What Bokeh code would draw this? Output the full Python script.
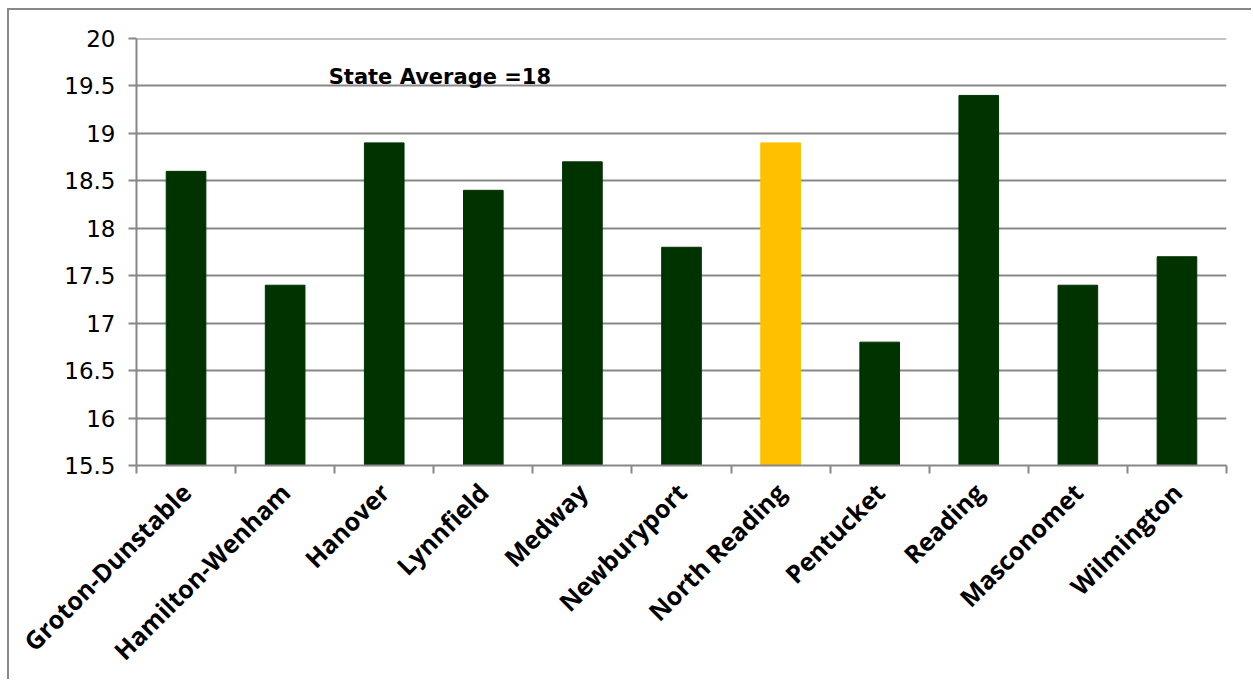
from bokeh.plotting import figure
from bokeh.models import Label, FixedTicker, ColumnDataSource, Span, Range1d, LinearAxis
from bokeh.embed import file_html
from bokeh.resources import INLINE
import math

schools = ["Groton-Dunstable", "Hamilton-Wenham", "Hanover", "Lynnfield", "Medway",
           "Newburyport", "North Reading", "Pentucket", "Reading", "Masconomet", "Wilmington"]
scores = [18.6, 17.4, 18.9, 18.4, 18.7, 17.8, 18.9, 16.8, 19.4, 17.4, 17.7]
highlight = "North Reading"
y_ticks = [15.5, 16, 16.5, 17, 17.5, 18, 18.5, 19, 19.5, 20]
note = "State Average =18"

GREEN = "#003300"
GOLD = "#FFC000"
GRID = "#888888"
colors = [GOLD if s == highlight else GREEN for s in schools]
n = len(schools)
centers = [i + 0.5 for i in range(n)]
bounds = list(range(n + 1))

src = ColumnDataSource(dict(x=centers, top=scores, color=colors))

W, H = 1253 - 9, 681 - 10
p = figure(x_range=Range1d(0, n), y_range=Range1d(15.5, 20), width=W, height=H,
           output_backend="svg", toolbar_location=None,
           min_border_left=127, min_border_right=W - (1226 - 9),
           min_border_top=28, min_border_bottom=H - (465 - 10))
p.styles = {"border-top": "2px solid #888888", "border-left": "2px solid #888888",
            "margin-left": "7px", "margin-top": "8px"}

p.vbar(x="x", top="top", bottom=15.5, width=0.4, color="color", source=src)

p.outline_line_color = None
p.xgrid.grid_line_color = None
p.ygrid.grid_line_color = GRID
p.ygrid.grid_line_width = 2
p.add_layout(Span(location=20, dimension="width", line_color=GRID, line_width=2))

# inner y axis: line and ticks only
p.yaxis.ticker = FixedTicker(ticks=y_ticks)
p.yaxis.axis_line_color = GRID
p.yaxis.axis_line_width = 2
p.yaxis.major_tick_line_color = GRID
p.yaxis.major_tick_line_width = 2
p.yaxis.major_tick_in = 0
p.yaxis.major_tick_out = 8
p.yaxis.minor_tick_line_color = None
p.yaxis.major_label_overrides = {t: "" for t in y_ticks}

# outer y axis: labels only
ylab = LinearAxis(ticker=FixedTicker(ticks=y_ticks), axis_line_color=None,
                  major_tick_line_color=None, minor_tick_line_color=None,
                  major_tick_in=0, major_tick_out=8,
                  major_label_text_font="DejaVu Sans", major_label_text_font_size="23px",
                  major_label_text_color="#000000")
p.add_layout(ylab, "left")

p.xaxis.ticker = FixedTicker(ticks=centers, minor_ticks=bounds)
p.xaxis.major_label_overrides = {c: s for c, s in zip(centers, schools)}
p.xaxis.axis_line_color = GRID
p.xaxis.axis_line_width = 2
p.xaxis.major_tick_line_color = None
p.xaxis.minor_tick_line_color = GRID
p.xaxis.minor_tick_line_width = 2
p.xaxis.minor_tick_in = 0
p.xaxis.minor_tick_out = 8
p.xaxis.major_label_orientation = math.pi / 4
p.xaxis.major_label_text_font = "Open Sans"
p.xaxis.major_label_text_font_style = "bold"
p.xaxis.major_label_text_font_size = "25px"
p.xaxis.major_label_text_color = "#000000"
p.xaxis.major_label_standoff = 14

p.add_layout(Label(x=1.94, y=19.59, text=note, text_font="DejaVu Sans",
                   text_font_size="21px", text_font_style="bold",
                   text_baseline="alphabetic", text_color="#000000"))

open("out.html", "w").write(file_html(p, INLINE))
